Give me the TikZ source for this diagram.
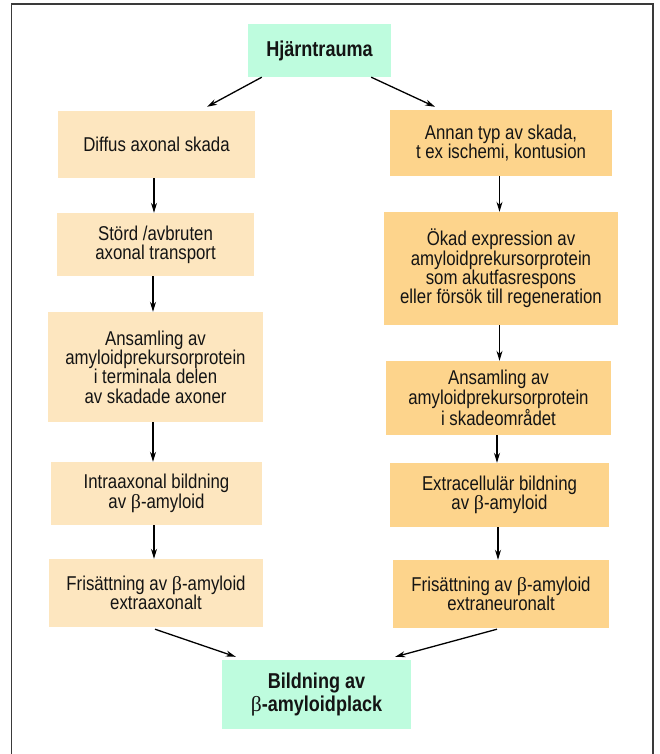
\documentclass[tikz,border=0pt]{standalone}
\usepackage{fontspec}
\setmainfont{Liberation Sans}[FakeStretch=0.84]
\newfontfamily\grk{Liberation Serif}
\usetikzlibrary{calc,arrows.meta}
\definecolor{mint}{HTML}{BEFCDE}
\definecolor{peachL}{HTML}{FDE6BF}
\definecolor{peachR}{HTML}{FDD48C}
\definecolor{framec}{HTML}{3A3A3A}
\newcommand{\bet}{{\grk\mdseries β}}
\tikzset{
  boxbase/.style={inner sep=0pt, align=center, text=black!92,
    font=\fontsize{20}{19.3}\selectfont},
  lbox/.style={boxbase, fill=peachL},
  rbox/.style={boxbase, fill=peachR},
  gbox/.style={boxbase, fill=mint, font=\fontsize{21.5}{22.5}\selectfont\bfseries},
  arr/.style={line width=1.3pt, -{Stealth[length=10pt,width=6pt]}},
  sz/.style n args={2}{minimum width=#1pt, minimum height=#2pt}
}
\begin{document}
\begin{tikzpicture}[x=1pt,y=-1pt]
\useasboundingbox (0,0) rectangle (659,754);
\fill[white] (0,0) rectangle (659,754);
% frame (open at the bottom)
\draw[framec, line width=1.6pt] (11.5,754) -- (11.5,4) -- (653,4) -- (653,754);

% nodes
\node[gbox, sz={143}{53}] (H) at (319.5,50.5) {Hjärntrauma};

\node[lbox, sz={197}{67}]  (L1) at (156.5,144.5) {Diffus axonal skada};
\node[lbox, sz={197}{63}]  (L2) at (155.5,244.5) {Störd /avbruten\\axonal transport};
\node[lbox, sz={215}{110}] (L3) at (155.5,367)   {Ansamling av\\amyloidprekursorprotein\\i terminala delen\\av skadade axoner};
\node[lbox, sz={211}{63}]  (L4) at (156.5,493.5) {Intraaxonal bildning\\av \bet-amyloid};
\node[lbox, sz={214}{68}]  (L5) at (156,593)     {Frisättning av \bet-amyloid\\extraaxonalt};

\node[rbox, sz={222}{66}]  (R1) at (501,143)   {Annan typ av skada,\\t ex ischemi, kontusion};
\node[rbox, sz={234}{113}] (R2) at (501,268.5) {Ökad expression av\\amyloidprekursorprotein\\som akutfasrespons\\eller försök till regeneration};
\node[rbox, sz={225}{74}]  (R3) at (498.5,398) {Ansamling av\\amyloidprekursorprotein\\i skadeområdet};
\node[rbox, sz={219}{64}]  (R4) at (499.5,495) {Extracellulär bildning\\av \bet-amyloid};
\node[rbox, sz={216}{68}]  (R5) at (501,594)   {Frisättning av \bet-amyloid\\extraneuronalt};

\node[gbox, sz={189}{69}] (B) at (316.5,694.5) {Bildning av\\\bet-amyloidplack};

% connectors
\draw[arr] ($(H.south west)+(14,0)$) -- ($(L1.north)+(50.5,-4)$);
\draw[arr] ($(H.south east)+(-20,0)$) -- ($(R1.north)+(-66,-3)$);

\foreach \a/\b in {L1/L2,L2/L3,L3/L4,L4/L5}{
  \draw[arr] ([xshift=-2.5pt]\a.south) -- ([xshift=-2.5pt]\a.south |- \b.north);
}
\foreach \a/\b in {R1/R2,R2/R3,R3/R4,R4/R5}{
  \draw[arr] ([xshift=-1.5pt]\a.south) -- ([xshift=-1.5pt]\a.south |- \b.north);
}

\draw[arr] ($(L5.south)+(-1,2)$) -- ($(B.north west)+(14,-3)$);
\draw[arr] ($(R5.south)+(-4,1)$) -- ($(B.north east)+(-16,-3)$);
\end{tikzpicture}
\end{document}
